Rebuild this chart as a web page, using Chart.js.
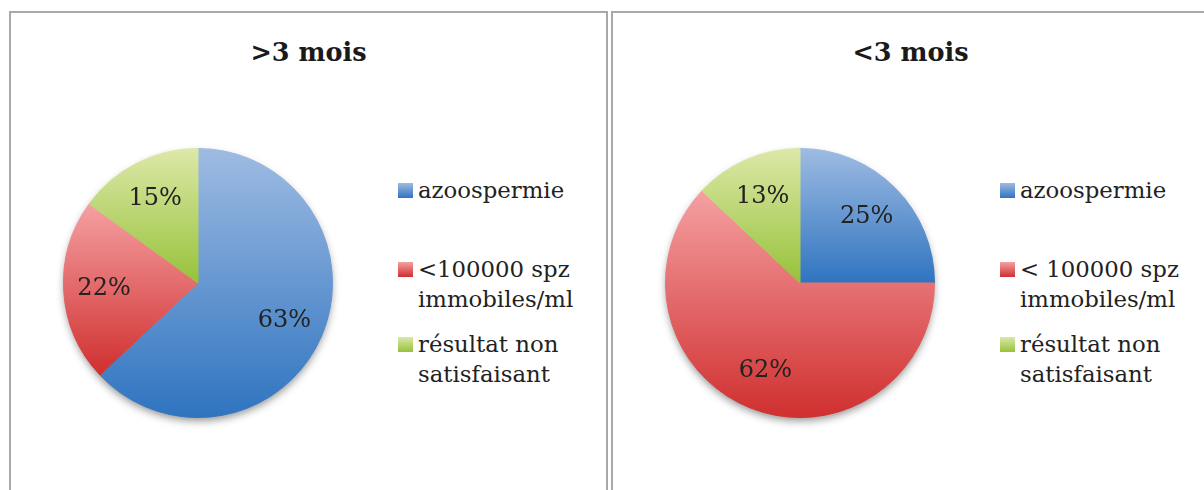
<!DOCTYPE html>
<html lang="fr">
<head>
<meta charset="UTF-8">
<title>Résultats selon le délai</title>
<script src="https://cdn.jsdelivr.net/npm/chart.js"></script>
<style>
    body {
        margin: 0;
        width: 1204px;
        height: 490px;
        overflow: hidden;
        background: #fff;
        font-family: 'DejaVu Serif', serif;
        color: #222;
    }
    .panneau {
        position: absolute;
        top: 11px;
        width: 599px;
        height: 500px;
        border: 2px solid #a8a8a8;
        box-sizing: border-box;
    }
    #panneauPlus { left: 9px; }
    #panneauMoins { left: 611px; }
    .titre {
        position: absolute;
        left: 0;
        right: 0;
        top: 24px;
        margin: 0;
        text-align: center;
        font-size: 25.5px;
        line-height: 30px;
        font-weight: bold;
        color: #1a1a1a;
    }
    canvas {
        position: absolute;
        left: 37px;
        top: 120px;
    }
    .legende {
        position: absolute;
        left: 388px;
        top: 162px;
        font-size: 22.8px;
        line-height: 30px;
    }
    .item {
        position: relative;
        padding-left: 19px;
        white-space: nowrap;
    }
    .item:nth-child(1) { height: 79px; }
    .item:nth-child(2) { height: 75px; }
    .carre {
        position: absolute;
        left: -1px;
        top: 8px;
        width: 15px;
        height: 15px;
    }
</style>
</head>
<body>

<div class="panneau" id="panneauPlus">
    <h2 class="titre" id="titrePlus"></h2>
    <canvas id="camembertPlus" width="300" height="300"></canvas>
    <div class="legende" id="legendePlus"></div>
</div>

<div class="panneau" id="panneauMoins">
    <h2 class="titre" id="titreMoins"></h2>
    <canvas id="camembertMoins" width="300" height="300"></canvas>
    <div class="legende" id="legendeMoins"></div>
</div>

<script>
    const titrePlus = ">3 mois";
    const titreMoins = "<3 mois";

    const categoriesPlus = [["azoospermie"], ["<100000 spz", "immobiles/ml"], ["résultat non", "satisfaisant"]];
    const categoriesMoins = [["azoospermie"], ["< 100000 spz", "immobiles/ml"], ["résultat non", "satisfaisant"]];

    const valeursPlus = [63, 22, 15];
    const valeursMoins = [25, 62, 13];

    // dégradé vertical : clair en haut, foncé en bas
    const couleursHaut = ['#9ebbe2', '#f5a0a2', '#dce8a8'];
    const couleursBas = ['#2f74c0', '#d02f2f', '#97c23a'];

    // ombre sous le camembert + dégradé calé sur chaque part
    const pluginDegrade = {
        id: 'degrade',
        beforeDatasetsDraw(chart) {
            const ctx = chart.ctx;
            const meta = chart.getDatasetMeta(0);
            const premier = meta.data[0];

            ctx.save();
            ctx.shadowColor = 'rgba(0,0,0,0.45)';
            ctx.shadowBlur = 9;
            ctx.shadowOffsetY = 4;
            ctx.fillStyle = '#fff';
            ctx.beginPath();
            ctx.arc(premier.x, premier.y, premier.outerRadius - 1, 0, Math.PI * 2);
            ctx.fill();
            ctx.restore();

            meta.data.forEach((arc, i) => {
                const { x, y, startAngle, endAngle, outerRadius } = arc;
                const angles = [startAngle, endAngle];
                for (let k = Math.ceil(startAngle / (Math.PI / 2)); k * Math.PI / 2 <= endAngle; k++) {
                    angles.push(k * Math.PI / 2);
                }
                let yMin = y, yMax = y;
                angles.forEach(a => {
                    const py = y + outerRadius * Math.sin(a);
                    yMin = Math.min(yMin, py);
                    yMax = Math.max(yMax, py);
                });
                const g = ctx.createLinearGradient(0, yMin, 0, yMax);
                g.addColorStop(0, couleursHaut[i]);
                g.addColorStop(1, couleursBas[i]);
                arc.options = Object.assign({}, arc.options, { backgroundColor: g, borderColor: g });
            });
        },
        afterDatasetsDraw(chart) {
            const ctx = chart.ctx;
            const meta = chart.getDatasetMeta(0);
            const valeurs = chart.data.datasets[0].data;
            ctx.save();
            ctx.font = '24px "DejaVu Serif"';
            ctx.fillStyle = '#222';
            ctx.textAlign = 'center';
            ctx.textBaseline = 'middle';
            meta.data.forEach((arc, i) => {
                const milieu = (arc.startAngle + arc.endAngle) / 2;
                const r = arc.outerRadius * 0.7;
                ctx.fillText(valeurs[i] + '%', arc.x + Math.cos(milieu) * r, arc.y + Math.sin(milieu) * r);
            });
            ctx.restore();
        }
    };

    function creerCamembert(idCanvas, categories, valeurs) {
        return new Chart(document.getElementById(idCanvas), {
            type: 'pie',
            data: {
                labels: categories.map(l => l.join(' ')),
                datasets: [{ data: valeurs, borderWidth: 1 }]
            },
            options: {
                responsive: false,
                animation: false,
                layout: { padding: 15 },
                plugins: {
                    legend: { display: false },
                    tooltip: { enabled: false }
                }
            },
            plugins: [pluginDegrade]
        });
    }

    function construireLegende(id, categories) {
        const conteneur = document.getElementById(id);
        categories.forEach((lignes, i) => {
            const item = document.createElement('div');
            item.className = 'item';
            const carre = document.createElement('span');
            carre.className = 'carre';
            carre.style.background = `linear-gradient(${couleursHaut[i]}, ${couleursBas[i]})`;
            const texte = document.createElement('span');
            texte.innerHTML = lignes.join('<br>');
            item.append(carre, texte);
            conteneur.appendChild(item);
        });
    }

    document.getElementById('titrePlus').textContent = titrePlus;
    document.getElementById('titreMoins').textContent = titreMoins;

    creerCamembert('camembertPlus', categoriesPlus, valeursPlus);
    creerCamembert('camembertMoins', categoriesMoins, valeursMoins);

    construireLegende('legendePlus', categoriesPlus);
    construireLegende('legendeMoins', categoriesMoins);
</script>

</body>
</html>
